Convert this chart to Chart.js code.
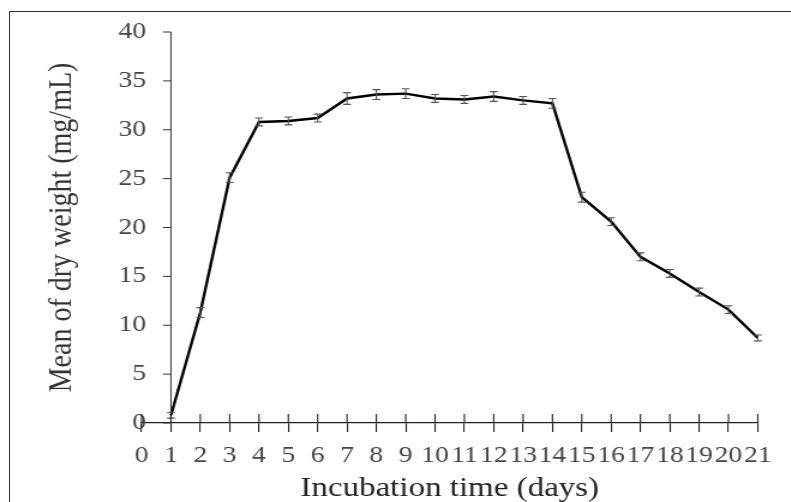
<!DOCTYPE html>
<html>
<head>
<meta charset="utf-8">
<script src="https://cdn.jsdelivr.net/npm/chart.js@4.4.1/dist/chart.umd.min.js"></script>
<style>
  html, body { margin: 0; padding: 0; background: #fff; overflow: hidden; }
  #frame { position: absolute; left: 9px; top: 11px; width: 820px; height: 560px; border: 1.5px solid #333; }
  /* the source figure is stretched sideways, so the canvas is too */
  #wrap { position: absolute; left: 0; top: 0; width: 659px; height: 520px; transform: scaleX(1.2); transform-origin: 0 0; }
</style>
</head>
<body>
<div id="frame"></div>
<div id="wrap"><canvas id="chart"></canvas></div>
<script>
const days = [1, 2, 3, 4, 5, 6, 7, 8, 9, 10, 11, 12, 13, 14, 15, 16, 17, 18, 19, 20, 21];
const meanWeight = [0.8, 11.3, 25.1, 30.8, 30.9, 31.2, 33.2, 33.6, 33.7, 33.2, 33.1, 33.4, 33.0, 32.7, 23.1, 20.6, 17.0, 15.3, 13.4, 11.6, 8.7];
const errWeight = [0.3, 0.5, 0.5, 0.4, 0.4, 0.4, 0.6, 0.5, 0.5, 0.4, 0.4, 0.5, 0.4, 0.5, 0.5, 0.4, 0.4, 0.4, 0.4, 0.4, 0.3];
const yTicks = [0, 5, 10, 15, 20, 25, 30, 35, 40];

const serif = 'Liberation Serif';

// the y labels sit a little inside the plot (the axis is drawn at day 1),
// so widen the y scale's label clip box after layout
const yLabelShift = {
    id: 'yLabelShift',
    afterLayout(chart) {
        chart.scales.y.right += 8;
    }
};

// error bars, the y axis at day 1, and x ticks that cross the axis
const extras = {
    id: 'extras',
    afterDatasetsDraw(chart) {
        const ctx = chart.ctx;
        const xs = chart.scales.x, ys = chart.scales.y;
        ctx.save();
        ctx.strokeStyle = '#555';
        ctx.lineWidth = 1.1;
        days.forEach((d, i) => {
            const px = xs.getPixelForValue(d);
            const top = ys.getPixelForValue(meanWeight[i] + errWeight[i]);
            const bot = ys.getPixelForValue(meanWeight[i] - errWeight[i]);
            ctx.beginPath();
            ctx.moveTo(px, top); ctx.lineTo(px, bot);
            ctx.moveTo(px - 3.3, top); ctx.lineTo(px + 3.3, top);
            ctx.moveTo(px - 3.3, bot); ctx.lineTo(px + 3.3, bot);
            ctx.stroke();
        });

        ctx.strokeStyle = '#333';
        ctx.lineWidth = 1;
        const ax = xs.getPixelForValue(1);
        ctx.beginPath();
        ctx.moveTo(ax, ys.getPixelForValue(0));
        ctx.lineTo(ax, ys.getPixelForValue(40));
        yTicks.forEach(v => {
            const py = ys.getPixelForValue(v);
            ctx.moveTo(ax - 6.7, py); ctx.lineTo(ax, py);
        });
        ctx.stroke();

        ctx.strokeStyle = '#222';
        ctx.lineWidth = 1.1;
        const y0 = ys.getPixelForValue(0);
        for (let v = 0; v <= 21; v++) {
            const px = xs.getPixelForValue(v);
            ctx.beginPath();
            ctx.moveTo(px, y0 - 9); ctx.lineTo(px, y0);
            ctx.stroke();
        }
        ctx.restore();
    }
};

new Chart(document.getElementById('chart').getContext('2d'), {
    type: 'line',
    data: {
        datasets: [{
            label: 'Mean of dry weight',
            data: days.map((d, i) => ({ x: d, y: meanWeight[i] })),
            borderColor: '#000',
            borderWidth: 2.4,
            pointRadius: 0,
            tension: 0,
            fill: false
        }]
    },
    options: {
        responsive: true,
        maintainAspectRatio: false,
        animation: false,
        layout: { padding: { left: 31, right: 27.5, top: 32, bottom: 0 } },
        plugins: { legend: { display: false }, tooltip: { enabled: false } },
        scales: {
            x: {
                type: 'linear',
                min: 0,
                max: 21,
                afterFit: (scale) => { scale.height = 97; },
                ticks: {
                    stepSize: 1,
                    autoSkip: false,
                    maxRotation: 0,
                    padding: 10,
                    color: '#444',
                    font: { family: serif, size: 23 }
                },
                grid: { drawOnChartArea: false, drawTicks: true, tickLength: 9, color: '#222', lineWidth: 1.1 },
                border: { display: true, color: '#222', width: 1.3 },
                title: {
                    display: true,
                    text: 'Incubation time (days)',
                    color: '#222',
                    font: { family: serif, size: 27.5 },
                    padding: { top: 0, bottom: 15 }
                }
            },
            y: {
                position: 'left',
                min: 0,
                max: 40,
                afterFit: (scale) => { scale.width = 87; },
                ticks: {
                    stepSize: 5,
                    padding: 4.3,
                    color: '#444',
                    font: { family: serif, size: 23 }
                },
                grid: { display: false, drawTicks: false },
                border: { display: false },
                title: {
                    display: true,
                    text: 'Mean of dry weight (mg/mL)',
                    color: '#333',
                    font: { family: serif, size: 28 }
                }
            }
        }
    },
    plugins: [yLabelShift, extras]
});
</script>
</body>
</html>
